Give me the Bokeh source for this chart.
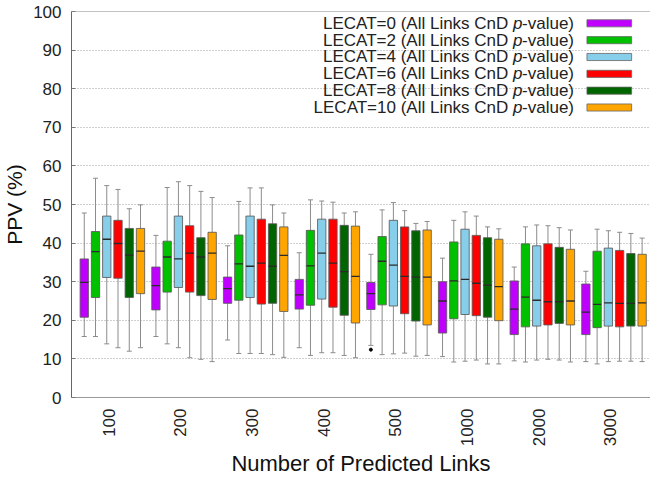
import math
from bokeh.plotting import figure
from bokeh.models import Range1d, FixedTicker, Label, BoxAnnotation, Span
from bokeh.embed import file_html
from bokeh.resources import INLINE

# ---------------- data ----------------
groups = ["100", "200", "300", "400", "500", "1000", "2000", "3000"]
series_names = ["LECAT=0", "LECAT=2", "LECAT=4", "LECAT=6", "LECAT=8", "LECAT=10"]
series_colors = ["#bf00ff", "#00c000", "#87ceeb", "#ff0000", "#006400", "#ffa500"]

whisker_low = [
    [15.8, 15.8, 14.9, 12.9, 13.5, 10.6, 9.5, 9.3],
    [15.8, 13.9, 11.4, 10.9, 11.1, 9.2, 9.2, 8.7],
    [13.9, 12.9, 11.4, 11.6, 11.3, 9.4, 9.7, 9.3],
    [12.9, 10.3, 11.4, 11.6, 11.5, 9.7, 9.9, 9.4],
    [12.0, 9.9, 11.1, 10.9, 10.7, 8.7, 9.7, 9.4],
    [12.9, 9.3, 10.4, 10.3, 10.9, 8.7, 9.2, 9.3],
]
quart1 = [
    [20.8, 22.7, 24.4, 22.9, 22.8, 16.7, 16.3, 16.3],
    [25.9, 27.3, 25.2, 23.9, 24.0, 20.4, 18.3, 18.1],
    [31.1, 28.5, 25.9, 25.5, 23.7, 21.5, 18.5, 18.5],
    [30.9, 27.3, 24.2, 23.4, 21.7, 21.2, 18.8, 18.3],
    [25.9, 26.4, 24.4, 21.3, 19.8, 20.8, 19.2, 18.5],
    [26.9, 25.4, 22.3, 19.3, 18.8, 19.9, 18.8, 18.5],
]
median = [
    [29.8, 29.0, 28.2, 26.6, 26.9, 25.0, 22.9, 22.1],
    [37.8, 36.4, 34.6, 34.1, 35.3, 30.2, 26.0, 24.1],
    [41.0, 35.9, 34.0, 37.4, 34.3, 30.6, 25.2, 24.5],
    [39.9, 37.4, 34.8, 34.8, 31.4, 29.6, 24.8, 24.4],
    [36.9, 36.4, 34.0, 32.6, 31.2, 29.1, 24.8, 24.4],
    [37.9, 37.4, 36.8, 31.4, 31.2, 28.7, 25.0, 24.5],
]
quart3 = [
    [35.9, 33.8, 31.2, 30.6, 29.8, 30.0, 30.2, 29.4],
    [43.0, 40.5, 42.1, 43.3, 41.7, 40.3, 39.8, 37.9],
    [47.0, 47.0, 47.0, 46.2, 45.9, 43.6, 39.3, 38.7],
    [45.9, 44.5, 46.2, 46.2, 44.2, 42.0, 39.8, 38.1],
    [43.8, 41.4, 45.0, 44.6, 43.2, 41.4, 38.9, 37.3],
    [43.8, 42.8, 44.2, 44.4, 43.4, 41.0, 38.4, 37.1],
]
whisker_high = [
    [47.8, 42.0, 39.3, 37.5, 37.1, 36.1, 33.8, 32.7],
    [56.8, 54.4, 50.8, 51.2, 48.6, 45.9, 44.2, 43.6],
    [54.9, 55.9, 54.3, 50.9, 50.5, 48.1, 44.7, 43.2],
    [53.9, 54.9, 54.3, 50.6, 48.4, 47.0, 44.5, 42.8],
    [48.9, 53.4, 49.9, 47.8, 45.1, 44.2, 44.0, 42.5],
    [49.9, 51.8, 47.8, 48.1, 45.6, 43.7, 43.4, 41.3],
]
# outliers: (group index, series index, value)
outlier_group = [4]
outlier_series = [0]
outlier_value = [12.4]

y_ticks = [0, 10, 20, 30, 40, 50, 60, 70, 80, 90, 100]

# ---------------- layout ----------------
W, H = 650, 479
ML, MR, MT, MB = 67, 0, 11, 76
X0, X1 = 0.48, 8.56
FW, FH = W - ML - MR, H - MT - MB
FONT = "Liberation Sans"

BOX_W = 0.116
BOX_STEP = 0.157
FIRST_OFF = -0.342
CAP_HALF = 0.035


def px_to_x(px):
    return X0 + (px - 8 - ML) / FW * (X1 - X0)


def py_to_y(py):
    return (8 + MT + FH - py) / FH * 100.0


p = figure(width=W, height=H, output_backend="svg", toolbar_location=None,
           x_range=Range1d(X0, X1), y_range=Range1d(0, 100),
           min_border_left=ML, min_border_right=MR,
           min_border_top=MT, min_border_bottom=MB)
p.outline_line_color = None
p.background_fill_color = "white"
p.border_fill_color = "white"

for k in range(len(series_names)):
    off = FIRST_OFF + k * BOX_STEP
    xs = [g + 1 + off for g in range(len(groups))]
    # whiskers
    p.segment(x0=xs, y0=whisker_low[k], x1=xs, y1=whisker_high[k],
              line_color="#8c8c8c", line_width=1)
    cl = [x - CAP_HALF for x in xs]
    cr = [x + CAP_HALF for x in xs]
    p.segment(x0=cl, y0=whisker_low[k], x1=cr, y1=whisker_low[k],
              line_color="#8c8c8c", line_width=1)
    p.segment(x0=cl, y0=whisker_high[k], x1=cr, y1=whisker_high[k],
              line_color="#8c8c8c", line_width=1)
    # boxes
    p.vbar(x=xs, width=BOX_W, bottom=quart1[k], top=quart3[k],
           fill_color=series_colors[k], line_color="#5a5a5a", line_alpha=0.85,
           line_width=1)
    # medians
    ml = [x - BOX_W / 2 for x in xs]
    mr = [x + BOX_W / 2 for x in xs]
    p.segment(x0=ml, y0=median[k], x1=mr, y1=median[k],
              line_color="#2a2a2a", line_width=1.3)

ox = [g + 1 + FIRST_OFF + s * BOX_STEP for g, s in zip(outlier_group, outlier_series)]
p.scatter(x=ox, y=outlier_value, size=3, color="black")

# top border
p.add_layout(Span(location=100, dimension="width", line_color="#888888", line_width=1))

# axes
p.xaxis.ticker = FixedTicker(ticks=list(range(1, len(groups) + 1)))
p.xaxis.major_label_overrides = {i + 1: g for i, g in enumerate(groups)}
p.xaxis.major_label_orientation = math.pi / 2
p.xaxis.major_tick_line_color = None
p.xaxis.major_tick_in = 0
p.xaxis.major_tick_out = 0
p.xaxis.minor_tick_line_color = None
p.xaxis.minor_tick_out = 0
p.xaxis.major_label_standoff = 11
p.xaxis.axis_label = "Number of Predicted Links"
p.xaxis.axis_label_standoff = 2
p.xaxis.axis_line_color = "#999999"

p.yaxis.ticker = FixedTicker(ticks=y_ticks)
p.yaxis.major_tick_in = 4
p.yaxis.major_tick_out = 0
p.yaxis.major_tick_line_color = "#777777"
p.yaxis.minor_tick_line_color = None
p.yaxis.minor_tick_out = 0
p.yaxis.major_label_standoff = 10
p.yaxis.axis_label = "PPV (%)"
p.yaxis.axis_label_standoff = 4
p.yaxis.axis_line_color = "#666666"

for ax in (p.xaxis, p.yaxis):
    ax.major_label_text_font = FONT
    ax.major_label_text_font_size = "17px"
    ax.major_label_text_color = "#222222"
    ax.axis_label_text_font = FONT
    ax.axis_label_text_font_style = "normal"
    ax.axis_label_text_color = "#111111"
p.xaxis.axis_label_text_font_size = "22px"
p.yaxis.axis_label_text_font_size = "21px"

p.xgrid.visible = False
p.ygrid.grid_line_color = "#a0a0a0"
p.ygrid.grid_line_dash = "1 2"
p.ygrid.grid_line_width = 1

# legend (text right-aligned, swatch on the right)
FS = 17
w_tail = 3.056 * FS
w_p = 0.556 * FS
w_sp = 0.278 * FS
R = 8 + ML + FW - 77
for k, name in enumerate(series_names):
    cy = 31 + k * 17.1
    yy = py_to_y(cy)
    p.add_layout(Label(x=px_to_x(R), y=yy, text="-value)", text_align="right",
                       text_baseline="middle", text_font=FONT,
                       text_font_size=f"{FS}px", text_color="#222222"))
    p.add_layout(Label(x=px_to_x(R - w_tail), y=yy, text="p", text_align="right",
                       text_baseline="middle", text_font=FONT, text_font_style="italic",
                       text_font_size=f"{FS}px", text_color="#222222"))
    p.add_layout(Label(x=px_to_x(R - w_tail - w_p - w_sp), y=yy,
                       text=f"{name} (All Links CnD", text_align="right",
                       text_baseline="middle", text_font=FONT,
                       text_font_size=f"{FS}px", text_color="#222222"))
    p.add_layout(BoxAnnotation(left=px_to_x(R + 13), right=px_to_x(R + 58),
                               bottom=py_to_y(cy + 3.6), top=py_to_y(cy - 3.6),
                               fill_color=series_colors[k], fill_alpha=1,
                               line_color="#666666", line_alpha=0.8, line_width=1))

open("out.html", "w").write(file_html(p, INLINE))
